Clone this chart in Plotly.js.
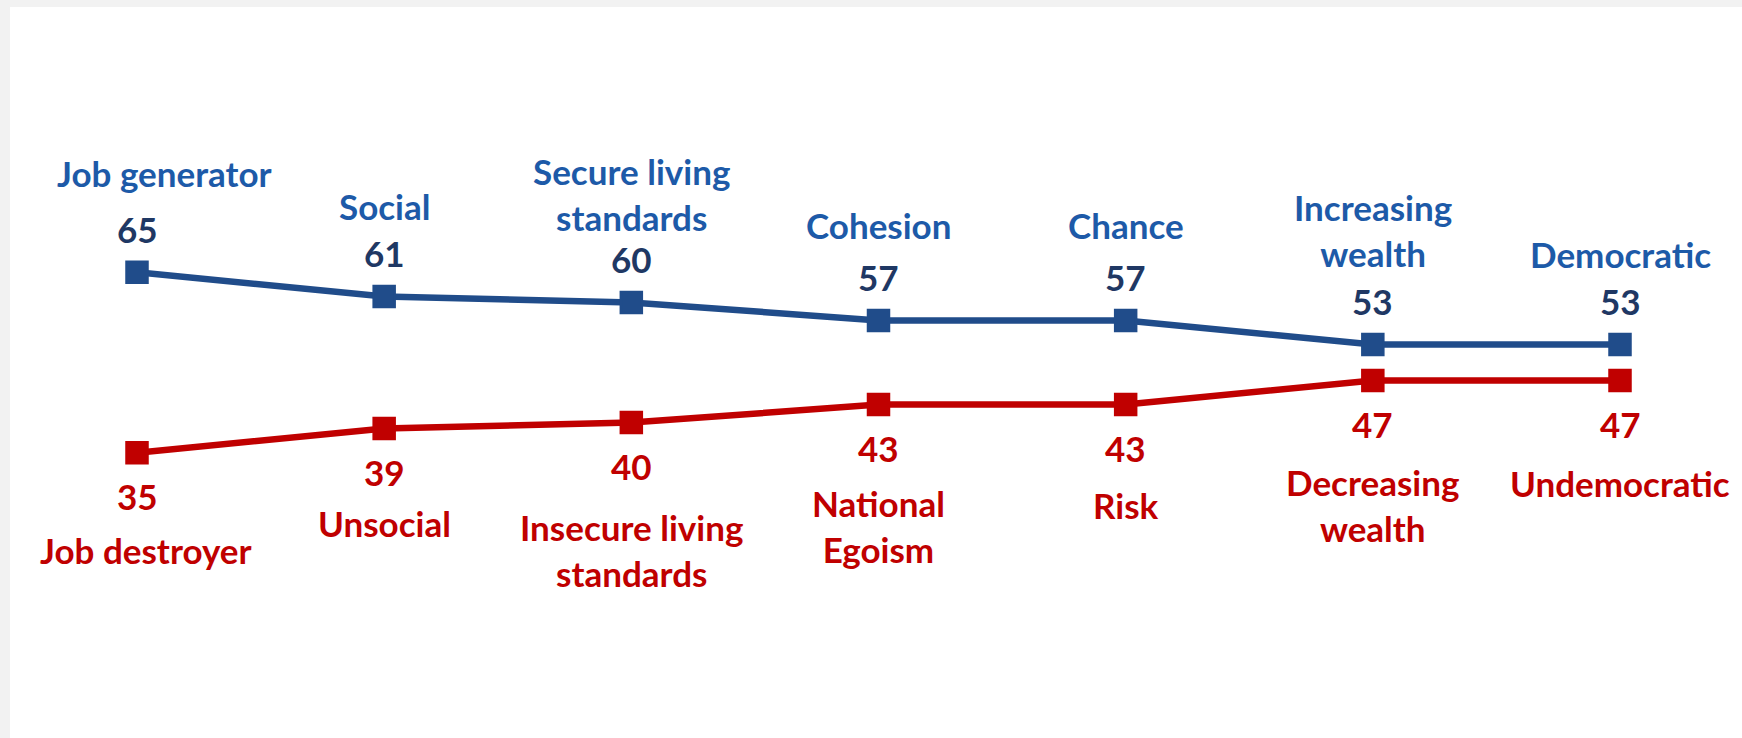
<!DOCTYPE html>
<html>
<head>
<meta charset="utf-8">
<script src="https://cdn.plot.ly/plotly-3.0.1.min.js"></script>
<style>
  html, body { margin: 0; padding: 0; background: #f2f2f2; width: 1742px; height: 738px; overflow: hidden; }
  #card { position: absolute; left: 10px; top: 7px; width: 1732px; height: 731px; background: #ffffff; }
  #chart { width: 1732px; height: 731px; }
</style>
</head>
<body>
<div id="card"><div id="chart"></div></div>
<script>
// ---- data ----
const dimensions = ['Jobs', 'Social', 'Living standards', 'Cohesion', 'Chance', 'Wealth', 'Democracy'];
const positiveLabels = ['Job generator', 'Social', 'Secure living<br>standards', 'Cohesion', 'Chance', 'Increasing<br>wealth', 'Democratic'];
const negativeLabels = ['Job destroyer', 'Unsocial', 'Insecure living<br>standards', 'National<br>Egoism', 'Risk', 'Decreasing<br>wealth', 'Undemocratic'];
const positiveValues = [65, 61, 60, 57, 57, 53, 53];
const negativeValues = [35, 39, 40, 43, 43, 47, 47];

// ---- style (label placement tweaks, in pixels) ----
const positiveLabelLift = [76, 67, 62, 72, 72, 68, 67];
const negativeLabelDrop = [74, 71, 81, 75, 77, 78, 79];
const positiveLabelXShift = [27, 0, 0, 0, 0, 0, 0];
const negativeLabelXShift = [9, 0, 0, 0, 0, 0, 0];

const lineBlue = '#204C8A';
const labelBlue = '#1D5AA8';
const numberBlue = '#1F3864';
const red = '#C00000';
const fontFamily = 'Lato, "Open Sans", sans-serif';
const fontSize = 35;

const traces = [
  {
    x: dimensions, y: positiveValues, type: 'scatter', mode: 'lines+markers',
    line: { color: lineBlue, width: 6.5 },
    marker: { symbol: 'square', size: 21, color: lineBlue, line: { color: lineBlue, width: 2.5 } },
    cliponaxis: false, hoverinfo: 'skip', showlegend: false
  },
  {
    x: dimensions, y: negativeValues, type: 'scatter', mode: 'lines+markers',
    line: { color: red, width: 6.5 },
    marker: { symbol: 'square', size: 21, color: red, line: { color: red, width: 2.5 } },
    cliponaxis: false, hoverinfo: 'skip', showlegend: false
  }
];

const annotations = [];
dimensions.forEach((d, i) => {
  annotations.push({
    x: d, y: positiveValues[i], text: String(positiveValues[i]), showarrow: false,
    xanchor: 'center', yanchor: 'middle', yshift: 43,
    font: { family: fontFamily, size: fontSize, color: numberBlue, weight: 700 }
  });
  annotations.push({
    x: d, y: positiveValues[i], text: positiveLabels[i], showarrow: false,
    xanchor: 'center', yanchor: 'bottom', yshift: positiveLabelLift[i], xshift: positiveLabelXShift[i],
    font: { family: fontFamily, size: fontSize, color: labelBlue, weight: 700 }
  });
  annotations.push({
    x: d, y: negativeValues[i], text: String(negativeValues[i]), showarrow: false,
    xanchor: 'center', yanchor: 'middle', yshift: -43,
    font: { family: fontFamily, size: fontSize, color: red, weight: 700 }
  });
  annotations.push({
    x: d, y: negativeValues[i], text: negativeLabels[i], showarrow: false,
    xanchor: 'center', yanchor: 'top', yshift: -negativeLabelDrop[i], xshift: negativeLabelXShift[i],
    font: { family: fontFamily, size: fontSize, color: red, weight: 700 }
  });
});

const layout = {
  width: 1732, height: 731,
  margin: { l: 127, r: 122, t: 55, b: 75, pad: 0 },
  paper_bgcolor: '#ffffff', plot_bgcolor: '#ffffff',
  xaxis: { type: 'category', range: [0, 6], showgrid: false, zeroline: false, showticklabels: false, showline: false, ticks: '', fixedrange: true },
  yaxis: { range: [0, 100], showgrid: false, zeroline: false, showticklabels: false, showline: false, ticks: '', fixedrange: true },
  annotations: annotations,
  showlegend: false
};

Plotly.newPlot('chart', traces, layout, { displayModeBar: false, staticPlot: true });
</script>
</body>
</html>
